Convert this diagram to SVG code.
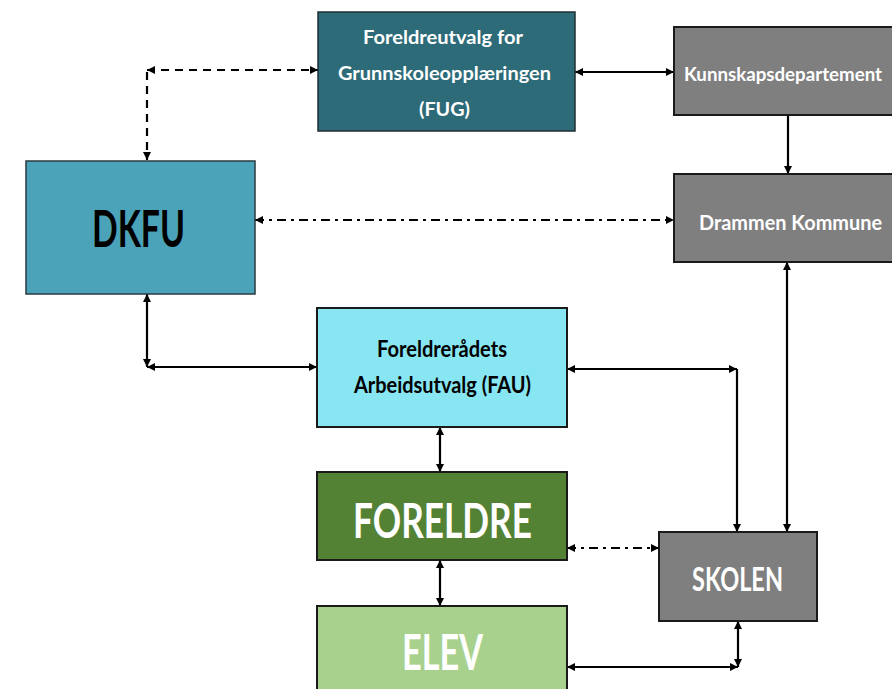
<svg xmlns="http://www.w3.org/2000/svg" width="892" height="689" viewBox="0 0 892 689">
<style>
.t{font-family:Lato,"Open Sans","Liberation Sans",sans-serif;font-weight:bold;}
.w{fill:#ffffff;}
.k{fill:#000000;}
.c{fill:none;stroke:#000;stroke-width:2.2;}
.dash{stroke-dasharray:8,6;}
.dd{stroke-dasharray:9,5,3,5;}
.box{stroke:#1a1a1a;stroke-width:2;}
</style>
<defs>
<marker id="a" viewBox="0 0 8 8" refX="8" refY="4" markerWidth="8" markerHeight="8" markerUnits="userSpaceOnUse" orient="auto-start-reverse">
<path d="M0,0 L8,4 L0,8 z" fill="#000"/>
</marker>
</defs>
<g id="connectors">
<line class="c dash" x1="147" y1="70" x2="318" y2="70" marker-start="url(#a)" marker-end="url(#a)"/>
<line class="c dash" x1="147" y1="72" x2="147" y2="160" marker-end="url(#a)"/>
<line class="c" x1="575" y1="72" x2="674" y2="72" marker-start="url(#a)" marker-end="url(#a)"/>
<line class="c" x1="788" y1="115" x2="788" y2="174" marker-end="url(#a)"/>
<line class="c dd" x1="255" y1="220" x2="674" y2="220" marker-start="url(#a)" marker-end="url(#a)"/>
<line class="c" x1="147" y1="294" x2="147" y2="367" marker-start="url(#a)" marker-end="url(#a)"/>
<line class="c" x1="147" y1="367" x2="317" y2="367" marker-start="url(#a)" marker-end="url(#a)"/>
<line class="c" x1="567" y1="369" x2="737" y2="369" marker-start="url(#a)" marker-end="url(#a)"/>
<line class="c" x1="737" y1="369" x2="737" y2="532" marker-end="url(#a)"/>
<line class="c" x1="787" y1="262" x2="787" y2="532" marker-start="url(#a)" marker-end="url(#a)"/>
<line class="c" x1="440" y1="427" x2="440" y2="472" marker-start="url(#a)" marker-end="url(#a)"/>
<line class="c dd" x1="567" y1="548" x2="659" y2="548" marker-start="url(#a)" marker-end="url(#a)"/>
<line class="c" x1="440" y1="560" x2="440" y2="606" marker-start="url(#a)" marker-end="url(#a)"/>
<line class="c" x1="738" y1="621" x2="738" y2="667" marker-start="url(#a)" marker-end="url(#a)"/>
<line class="c" x1="567" y1="667" x2="738" y2="667" marker-start="url(#a)" marker-end="url(#a)"/>
</g>
<g id="fug">
<rect x="318" y="12" width="257" height="119" fill="#2E6B78" stroke="#1f2f33" stroke-width="1.5"/>
<text class="t w" x="363" y="44" font-size="19" textLength="160" lengthAdjust="spacingAndGlyphs">Foreldreutvalg for</text>
<text class="t w" x="338" y="80" font-size="19" textLength="213" lengthAdjust="spacingAndGlyphs">Grunnskoleopplæringen</text>
<text class="t w" x="419" y="116" font-size="19" textLength="51" lengthAdjust="spacingAndGlyphs">(FUG)</text>
</g>
<g id="kunnskapsdepartement">
<rect x="674" y="27" width="240" height="88" fill="#7F7F7F" stroke="#1a1a1a" stroke-width="2"/>
<text class="t w" x="684" y="81" font-size="18" textLength="198" lengthAdjust="spacingAndGlyphs">Kunnskapsdepartement</text>
</g>
<g id="dkfu">
<rect x="26" y="161" width="229" height="133" fill="#4BA3B9" stroke="#2a3a40" stroke-width="1.5"/>
<text class="t k" x="92" y="247" font-size="52" textLength="93" lengthAdjust="spacingAndGlyphs">DKFU</text>
</g>
<g id="drammen">
<rect x="674" y="174" width="240" height="88" fill="#7F7F7F" stroke="#1a1a1a" stroke-width="2"/>
<text class="t w" x="699" y="230" font-size="21" textLength="183" lengthAdjust="spacingAndGlyphs">Drammen Kommune</text>
</g>
<g id="fau">
<rect class="box" x="317" y="308" width="250" height="119" fill="#87E6F2"/>
<text class="t k" x="377" y="357" font-size="22" textLength="130" lengthAdjust="spacingAndGlyphs">Foreldrerådets</text>
<text class="t k" x="354" y="393" font-size="22" textLength="177" lengthAdjust="spacingAndGlyphs">Arbeidsutvalg (FAU)</text>
</g>
<g id="foreldre">
<rect class="box" x="317" y="472" width="250" height="88" fill="#548235"/>
<text class="t w" x="353" y="538" font-size="48" textLength="179" lengthAdjust="spacingAndGlyphs">FORELDRE</text>
</g>
<g id="skolen">
<rect class="box" x="659" y="532" width="158" height="89" fill="#7F7F7F"/>
<text class="t w" x="692" y="591" font-size="32" textLength="91" lengthAdjust="spacingAndGlyphs">SKOLEN</text>
</g>
<g id="elev">
<rect class="box" x="317" y="606" width="250" height="100" fill="#A9D18E"/>
<text class="t w" x="402" y="670" font-size="50" textLength="81" lengthAdjust="spacingAndGlyphs">ELEV</text>
</g>
</svg>
